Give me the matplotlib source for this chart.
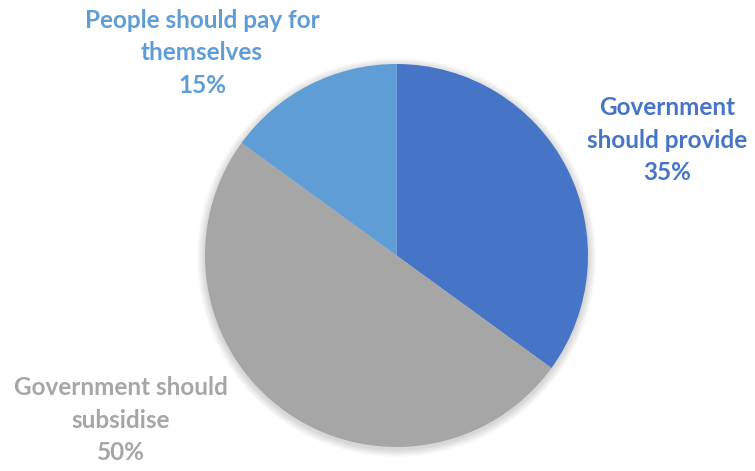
import matplotlib
matplotlib.use('Agg')
from matplotlib import pyplot as plt
from matplotlib.patches import Circle

# survey shares, clockwise from the top
labels = ['Government\nshould provide', 'Government should\nsubsidise', 'People should pay for\nthemselves']
shares = [35, 50, 15]
colors = ['#4675C7', '#A6A6A6', '#5E9DD6']

W, H = 755, 471
fig = plt.figure(figsize=(W / 100, H / 100), dpi=100)
ax = fig.add_axes([0, 0, 1, 1])

cx, cy, r = 396.5, H - 255.5, 191.5

# soft drop shadow under the pie
for k in range(1, 9):
    ax.add_patch(Circle((cx, cy - 2), r + k, color='black', alpha=0.018, lw=0, zorder=0))

ax.pie(shares, colors=colors, startangle=90, counterclock=False,
       center=(cx, cy), radius=r, frame=True,
       wedgeprops=dict(linewidth=0))
ax.set_xlim(0, W)
ax.set_ylim(0, H)
ax.set_aspect('equal')
ax.axis('off')

# label anchors (centre of the text block, in pixels from top-left)
pos = [(667, 140), (121, 420), (202, 53)]
for lab, val, col, (x, y) in zip(labels, shares, colors, pos):
    ax.text(x, H - y, f'{lab}\n{val}%', color=col, ha='center', va='center',
            fontsize=17.5, fontweight='bold', family='Lato', linespacing=1.5)

fig.savefig('out.png', dpi=100)
